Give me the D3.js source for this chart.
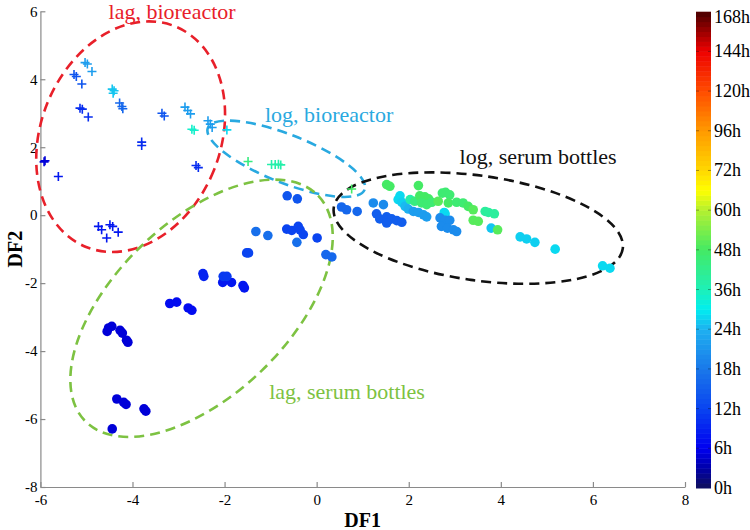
<!DOCTYPE html>
<html>
<head>
<meta charset="utf-8">
<script src="https://cdn.jsdelivr.net/npm/d3@7/dist/d3.min.js"></script>
<style>
html,body{margin:0;padding:0;background:#fff;}
svg{display:block;}
text{font-family:"Liberation Serif","Times New Roman",serif;}
</style>
</head>
<body>
<svg id="chart" width="750" height="530"></svg>
<script>
// ---- Data ----
// Bioreactor samples (plus markers)
const bioDF1 = [-5.92,-5.90,-5.61,-5.27,-5.22,-5.10,-5.03,-4.98,-4.88,-5.14,-5.09,-4.96,-4.44,-4.40,-4.42,-4.28,-4.23,-4.21,-3.80,-3.80,-3.36,-3.31,-2.86,-2.80,-2.74,-2.71,-2.66,-2.62,-2.57,-2.36,-2.31,-2.27,-1.95,-1.49,-0.98,-0.90,-0.83,-0.78,0.76,-4.74,-4.67,-4.49,-4.43,-4.56,-4.31];
const bioDF2 = [1.57,1.60,1.14,4.14,4.08,3.86,4.49,4.45,4.23,3.15,3.12,2.89,3.71,3.66,3.59,3.30,3.20,3.13,2.15,2.05,3.00,2.92,3.18,3.08,2.98,2.53,2.50,1.46,1.40,2.78,2.68,2.58,2.51,1.58,1.49,1.49,1.50,1.48,0.77,-0.33,-0.43,-0.28,-0.33,-0.67,-0.50];
const bioHours = [5,5,8,14,14,14,22,22,22,10,10,10,26,26,26,16,16,16,10,10,14,14,22,22,22,34,34,10,10,22,22,22,28,44,38,38,38,38,48,8,8,8,8,8,8];

// Serum bottle samples (filled circles)
const serumDF1 = [
  -4.52,-4.45,-4.55,-4.27,-4.22,-4.13,-4.10,
  -3.19,-3.04,-2.79,-2.71,
  -2.47,-2.45,
  -2.04,-1.85,-2.03,-1.95,
  -1.60,-1.57,
  -1.52,-1.48,
  -1.32,-1.06,
  -4.34,-4.19,-4.14,-3.75,-3.71,-4.44,
  -0.64,-0.42,
  -0.65,-0.54,-0.40,-0.36,-0.29,
  -0.43,0.01,0.20,0.33,
  0.54,0.65,0.88,
  1.23,1.45,
  1.30,1.37,1.52,1.55,1.63,1.74,1.85,1.52,
  1.52,1.59,2.21,
  1.81,1.77,1.85,1.92,1.99,2.10,2.21,2.32,2.39,
  2.03,2.13,2.24,2.35,2.43,2.28,2.39,2.50,2.64,
  2.73,2.80,2.89,2.86,3.04,3.18,3.29,3.40,
  2.77,2.79,
  2.68,2.79,2.89,
  2.71,2.84,2.97,3.04,
  3.40,3.51,
  3.66,3.73,3.86,
  3.79,3.93,
  4.42,4.56,4.74,5.18,6.21,6.37];
const serumDF2 = [
  -3.32,-3.27,-3.42,-3.39,-3.47,-3.68,-3.74,
  -2.60,-2.56,-2.73,-2.80,
  -1.72,-1.80,
  -1.98,-1.98,-1.80,-1.80,
  -2.07,-2.14,
  -1.11,-1.11,
  -0.48,-0.60,
  -5.41,-5.51,-5.57,-5.70,-5.77,-6.29,
  0.57,0.48,
  -0.41,-0.45,-0.33,-0.43,-0.57,
  -0.80,-0.67,-1.16,-1.23,
  0.24,0.16,0.11,
  0.36,0.31,
  0.04,-0.11,-0.05,-0.15,-0.11,-0.16,-0.21,-0.23,
  0.90,0.85,0.87,
  0.57,0.46,0.38,0.26,0.18,0.11,0.08,0.01,-0.05,
  0.46,0.41,0.57,0.54,0.48,0.36,0.31,0.38,0.41,
  0.65,0.67,0.60,0.36,0.38,0.36,0.26,0.16,
  0.08,0.04,
  -0.08,-0.15,-0.15,
  -0.33,-0.38,-0.43,-0.48,
  -0.15,-0.18,
  0.11,0.08,0.04,
  -0.38,-0.43,
  -0.64,-0.70,-0.80,-1.00,-1.49,-1.56];
const serumHours = [
  5,5,5,5,5,5,5,
  7,7,7,7,
  9,9,
  8,8,11,11,
  8,8,
  12,12,
  17,17,
  5,5,5,5,5,5,
  14,14,
  12,12,12,12,12,
  17,12,16,16,
  16,16,16,
  20,20,
  15,15,15,15,15,15,15,15,
  48,48,48,
  28,28,27,25,24,22,22,22,22,
  38,44,48,48,48,46,46,46,50,
  46,46,46,48,46,46,48,50,
  28,28,
  20,20,20,
  20,20,20,20,
  50,50,
  40,40,40,
  26,50,
  27,27,27,28,28,28];

// Axis ticks
const xTicks = [-6,-4,-2,0,2,4,6,8];
const yTicks = [-8,-6,-4,-2,0,2,4,6];

// Colorbar tick labels (hours), evenly spaced on the bar
const barHours = [0,6,12,18,24,36,48,60,72,96,120,144,168];
const barLabels = ["0h","6h","12h","18h","24h","36h","48h","60h","72h","96h","120h","144h","168h"];

// Colormap stops
const cmapHours = [0,3,6,12,18,24,30,36,48,60,66,72,96,120,144,168];
const cmapColors = ["#10105a","#0000a8","#0000f0","#0a44f0","#1a78ea","#1eb0f0","#00eef0","#1ef0b8","#44ea64","#b4f030","#ffff00","#ffd800","#ff9a00","#ff4c00","#ee0000","#4a0000"];

// Group annotations (ellipses)
const groupNames = ["lag, bioreactor","log, bioreactor","log, serum bottles","lag, serum bottles"];
const groupColors = ["#e8202a","#29a9e0","#111111","#7dc242"];
const groupCx = [-4.04,-0.66,3.51,-2.50];
const groupCy = [2.31,1.66,-0.38,-2.74];
const groupRx = [1.95,1.83,3.17,3.52];
const groupRy = [3.50,0.71,1.54,2.55];
const groupAngle = [22,21.5,8.1,-44];
const labelX = [-3.14,0.27,4.81,0.66];
const labelY = [5.98,2.96,1.72,-5.19];

// ---- Drawing ----
const svg = d3.select("#chart");
const x = d3.scaleLinear().domain([-6,8]).range([40.4,685]);
const y = d3.scaleLinear().domain([-8,6]).range([487,11.3]);

const color = d3.scaleLinear().domain(cmapHours).range(cmapColors).interpolate(d3.interpolateRgb);

// axes
const axisColor = "#8a8a8a";
const gx = svg.append("g").attr("transform",`translate(0,${y(-8)})`)
  .call(d3.axisBottom(x).tickValues(xTicks).tickSizeInner(-5).tickSizeOuter(0).tickPadding(7).tickFormat(d=>String(d)));
const gy = svg.append("g").attr("transform",`translate(${x(-6)},0)`)
  .call(d3.axisLeft(y).tickValues(yTicks).tickSizeInner(-5).tickSizeOuter(0).tickPadding(3).tickFormat(d=>String(d)));
[gx,gy].forEach(g=>{
  g.select(".domain").attr("stroke",axisColor).attr("stroke-width",1.2);
  g.selectAll(".tick line").attr("stroke",axisColor).attr("stroke-width",1.2);
  g.selectAll(".tick text").attr("fill","#000").style("font-size","15px").style("font-family","'Liberation Serif',serif");
});

// axis titles
svg.append("text").attr("x",(x(-6)+x(8))/2).attr("y",527).attr("text-anchor","middle")
  .style("font-size","20px").style("font-weight","bold").text("DF1");
svg.append("text").attr("transform",`translate(22,${(y(-8)+y(6))/2}) rotate(-90)`).attr("text-anchor","middle")
  .style("font-size","20px").style("font-weight","bold").text("DF2");

// ellipses
const kx = x(1)-x(0), ky = y(0)-y(1);
const groups = groupNames.map((n,i)=>({n,i}));
svg.append("g").selectAll("ellipse").data(groups).join("ellipse")
  .attr("cx",0).attr("cy",0)
  .attr("rx",d=>groupRx[d.i]*kx).attr("ry",d=>groupRy[d.i]*ky)
  .attr("transform",d=>`translate(${x(groupCx[d.i])},${y(groupCy[d.i])}) rotate(${groupAngle[d.i]})`)
  .attr("fill","none").attr("stroke",d=>groupColors[d.i]).attr("stroke-width",2.6)
  .attr("stroke-dasharray","10,6");

svg.append("g").selectAll("text").data(groups).join("text")
  .attr("x",d=>x(labelX[d.i])).attr("y",d=>y(labelY[d.i]))
  .attr("text-anchor","middle").attr("dominant-baseline","central")
  .attr("fill",d=>groupColors[d.i]).style("font-size","22px").text(d=>d.n);

// bioreactor crosses
const bio = bioDF1.map((v,i)=>({x:v,y:bioDF2[i],h:bioHours[i]}));
const cs = 4.5;
svg.append("g").selectAll("path").data(bio).join("path")
  .attr("d",d=>{const px=x(d.x),py=y(d.y);return `M${px-cs},${py}H${px+cs}M${px},${py-cs}V${py+cs}`;})
  .attr("stroke",d=>color(d.h)).attr("stroke-width",1.6).attr("fill","none");

// serum circles
const serum = serumDF1.map((v,i)=>({x:v,y:serumDF2[i],h:serumHours[i]}));
svg.append("g").selectAll("circle").data(serum).join("circle")
  .attr("cx",d=>x(d.x)).attr("cy",d=>y(d.y)).attr("r",4.8)
  .attr("fill",d=>color(d.h));

// colorbar
const barX = 696, barW = 15, barTop = 11.7, barBot = 488;
const barPos = d3.scaleLinear().domain(barHours).range(barHours.map((h,i)=>barBot-(barBot-barTop)*i/(barHours.length-1)));
const nBands = 96;
const bands = d3.range(nBands);
const bandH = (barBot-barTop)/nBands;
svg.append("g").selectAll("rect").data(bands).join("rect")
  .attr("x",barX).attr("width",barW)
  .attr("y",d=>barBot-(d+1)*bandH).attr("height",bandH+0.5)
  .attr("fill",d=>color(barPos.invert(barBot-(d+0.5)*bandH)));
const bt = svg.append("g");
bt.selectAll("line.l").data(barHours.slice(1,-1)).join("line")
  .attr("x1",barX).attr("x2",barX+3).attr("y1",d=>barPos(d)).attr("y2",d=>barPos(d))
  .attr("stroke","rgba(0,0,0,0.35)").attr("stroke-width",1);
bt.selectAll("line.r").data(barHours.slice(1,-1)).join("line")
  .attr("x1",barX+barW-3).attr("x2",barX+barW).attr("y1",d=>barPos(d)).attr("y2",d=>barPos(d))
  .attr("stroke","rgba(0,0,0,0.35)").attr("stroke-width",1);
svg.append("g").selectAll("text").data(barHours).join("text")
  .attr("x",barX+barW+3).attr("y",(d,i)=>barPos(d)+(i===barHours.length-1?5:0))
  .attr("dominant-baseline","central").style("font-size","18px")
  .text((d,i)=>barLabels[i]);
</script>
</body>
</html>
